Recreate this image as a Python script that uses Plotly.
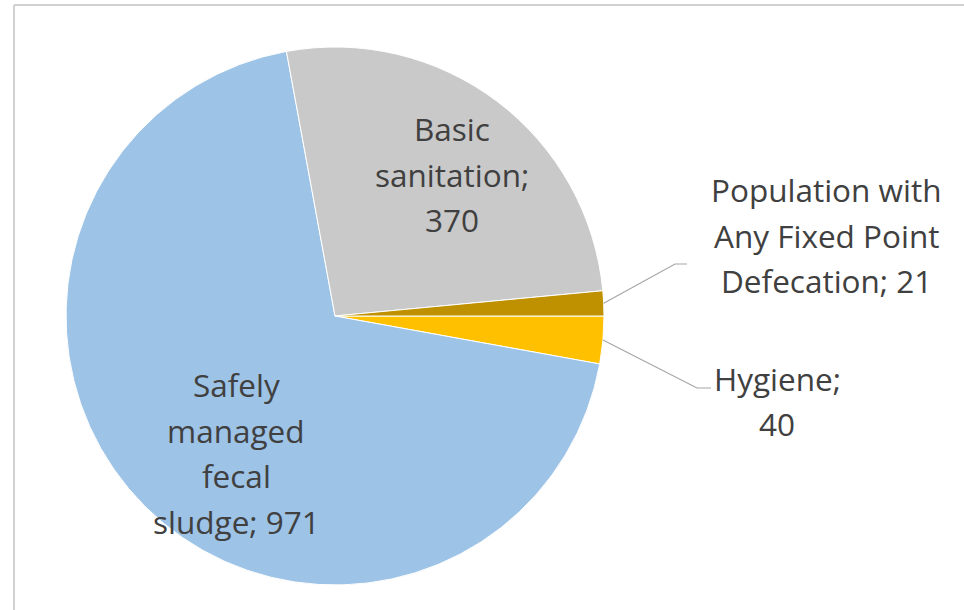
import math
import plotly.graph_objects as go

# ---- data ----
labels = ["Hygiene", "Safely managed fecal sludge", "Basic sanitation",
          "Population with Any Fixed Point Defecation"]
values = [40, 971, 370, 21]
colors = ["#FFC000", "#9DC3E6", "#C9C9C9", "#BF9000"]
label_lines = [
    ["Hygiene;", "40"],
    ["Safely", "managed", "fecal", "sludge; 971"],
    ["Basic", "sanitation;", "370"],
    ["Population with", "Any Fixed Point", "Defecation; 21"],
]

W, H = 964, 610
# pie placement (pixels)
CX, CY, R = 335, 316, 269
START = 90.0  # degrees clockwise from 12 o'clock

def px(x):
    return x / W

def py(y):
    return 1 - y / H

fig = go.Figure()
fig.add_trace(go.Pie(
    labels=labels, values=values, sort=False, direction="clockwise",
    rotation=START, marker=dict(colors=colors, line=dict(color="white", width=1)),
    textinfo="none", hoverinfo="label+value", showlegend=False,
    domain=dict(x=[px(CX - R), px(CX + R)], y=[py(CY + R), py(CY - R)]),
))

# slice mid angles from data
total = sum(values)
mids = []
acc = START
for v in values:
    span = 360.0 * v / total
    mids.append(acc + span / 2)
    acc += span

def edge_point(angle_deg, r):
    a = math.radians(angle_deg)
    return CX + r * math.sin(a), CY - r * math.cos(a)

# label block centers (pixels) and line spacing
label_centers = [(777, 401), (236, 453), (452, 174), (826, 235)]
LINE = 45.5
TEXT_COLOR = "#404040"
FONT = "Open Sans, sans-serif"

annotations = []
for lines, (lx, ly) in zip(label_lines, label_centers):
    n = len(lines)
    for i, t in enumerate(lines):
        yy = ly + (i - (n - 1) / 2) * LINE
        annotations.append(dict(
            x=px(lx), y=py(yy), xref="paper", yref="paper", text=t,
            showarrow=False, xanchor="center", yanchor="middle",
            font=dict(family=FONT, size=31.5, color=TEXT_COLOR)))

shapes = []
# leader lines for the two small slices (Hygiene idx 0, Defecation idx 3)
leaders = {0: [(697, 388), (711, 388)], 3: [(675, 264), (687, 264)]}
for idx, pts in leaders.items():
    sx, sy = edge_point(mids[idx], R)
    path_pts = [(sx, sy)] + pts
    path = "M " + " L ".join(f"{px(x)},{py(y)}" for x, y in path_pts)
    shapes.append(dict(type="path", xref="paper", yref="paper", path=path,
                       line=dict(color="#A6A6A6", width=1.2)))

# chart frame (top and left edges visible)
shapes.append(dict(type="line", xref="paper", yref="paper",
                   x0=px(14), x1=1.01, y0=py(5), y1=py(5),
                   line=dict(color="#D0D0D0", width=2)))
shapes.append(dict(type="line", xref="paper", yref="paper",
                   x0=px(14), x1=px(14), y0=py(5), y1=-0.01,
                   line=dict(color="#D0D0D0", width=2)))

fig.update_layout(
    width=W, height=H, margin=dict(l=0, r=0, t=0, b=0),
    paper_bgcolor="white", plot_bgcolor="white",
    annotations=annotations, shapes=shapes,
)
fig.write_html("out.html")
